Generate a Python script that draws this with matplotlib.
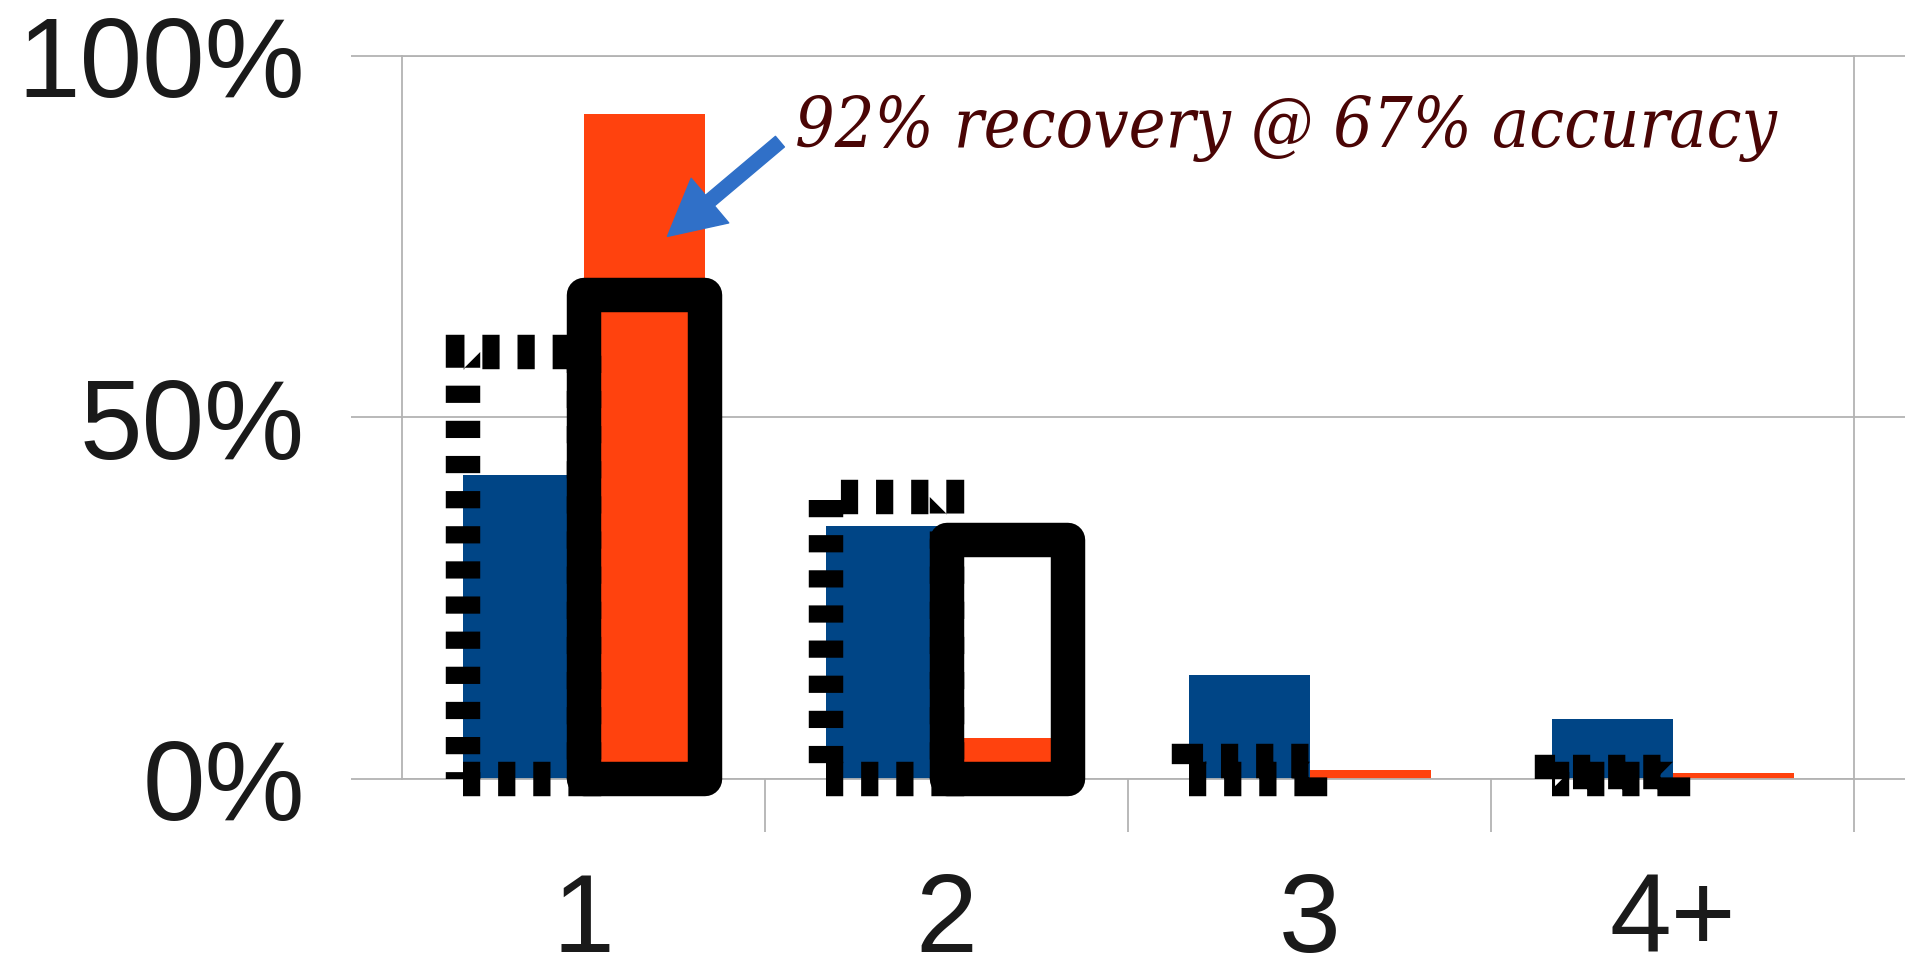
import matplotlib.pyplot as plt
import numpy as np
from matplotlib.patches import FancyArrowPatch

# share of cases per group size (percent)
categories = ["1", "2", "3", "4+"]
blue_vals = [42, 35, 14.4, 8.3]
orange_vals = [92, 5.7, 1.2, 0.8]
# outlined values drawn on top of the bars
blue_outline = [59, 39, 2.5, 1]
orange_outline = [67, 33, 0, 0]
y_ticks = [0, 50, 100]
note = "92% recovery @ 67% accuracy"

BLUE = "#004586"
ORANGE = "#ff420e"
GRID = "#b3b3b3"

plt.rcParams["font.family"] = ["Liberation Sans", "DejaVu Sans"]

fig = plt.figure(figsize=(19.14, 9.8), dpi=100)
ax = fig.add_axes([402 / 1914, 1 - 779 / 980, (1854 - 402) / 1914, (779 - 56) / 980])

x = np.arange(len(categories))
w = 1 / 3

ax.bar(x - w, blue_vals, width=w, align="edge", color=BLUE, zorder=2)
ax.bar(x, orange_vals, width=w, align="edge", color=ORANGE, zorder=2)

# dashed outline over the blue bars
dashed = ax.bar(x - w, blue_outline, width=w, align="edge", fill=False,
                edgecolor="black", linewidth=24.8, linestyle=(0, (0.5, 0.52)),
                zorder=3)
for p in dashed:
    p.set_clip_on(False)
    p.set_joinstyle("miter")
    p.set_capstyle("butt")

# solid rounded outline over the orange bars (only non-zero ones)
keep = [i for i, v in enumerate(orange_outline) if v > 0]
solid = ax.bar(x[keep], [orange_outline[i] for i in keep], width=w, align="edge",
               fill=False, edgecolor="black", linewidth=24.8, zorder=4)
for p in solid:
    p.set_clip_on(False)
    p.set_joinstyle("round")

ax.set_xlim(-0.5, len(categories) - 0.5)
ax.set_ylim(0, 100)

ax.set_yticks(y_ticks)
ax.set_yticklabels([f"{t}%" for t in y_ticks])
ax.set_xticks(x)
ax.set_xticklabels(categories)
ax.set_xticks(list(x[:-1] + 0.5) + [len(categories) - 0.5], minor=True)

ax.grid(axis="y", color=GRID, linewidth=1.3, zorder=0)
ax.set_axisbelow(True)
for s in ax.spines.values():
    s.set_color(GRID)
    s.set_linewidth(1.3)

ax.tick_params(axis="y", which="major", left=True, right=True, length=37,
               width=1.3, color=GRID, labelsize=81, labelcolor="#1a1a1a", pad=33)
ax.tick_params(axis="x", which="major", length=0, labelsize=80,
               labelcolor="#1a1a1a", pad=66)
ax.tick_params(axis="x", which="minor", length=38, width=1.3, color=GRID)

ax.text(0.584, 87.4, note, fontsize=50, fontstyle="italic",
        fontstretch="condensed", family=["DejaVu Serif", "Liberation Serif"],
        color="#4a0505", ha="left", va="baseline", zorder=5)

arrow = FancyArrowPatch((0.547, 88.4), (0.2255, 74.8),
                        arrowstyle="simple,head_length=40,head_width=42,tail_width=10",
                        mutation_scale=1, color="#3070c8", zorder=6,
                        clip_on=False)
ax.add_patch(arrow)

fig.savefig("out.png", dpi=100, facecolor="white")
